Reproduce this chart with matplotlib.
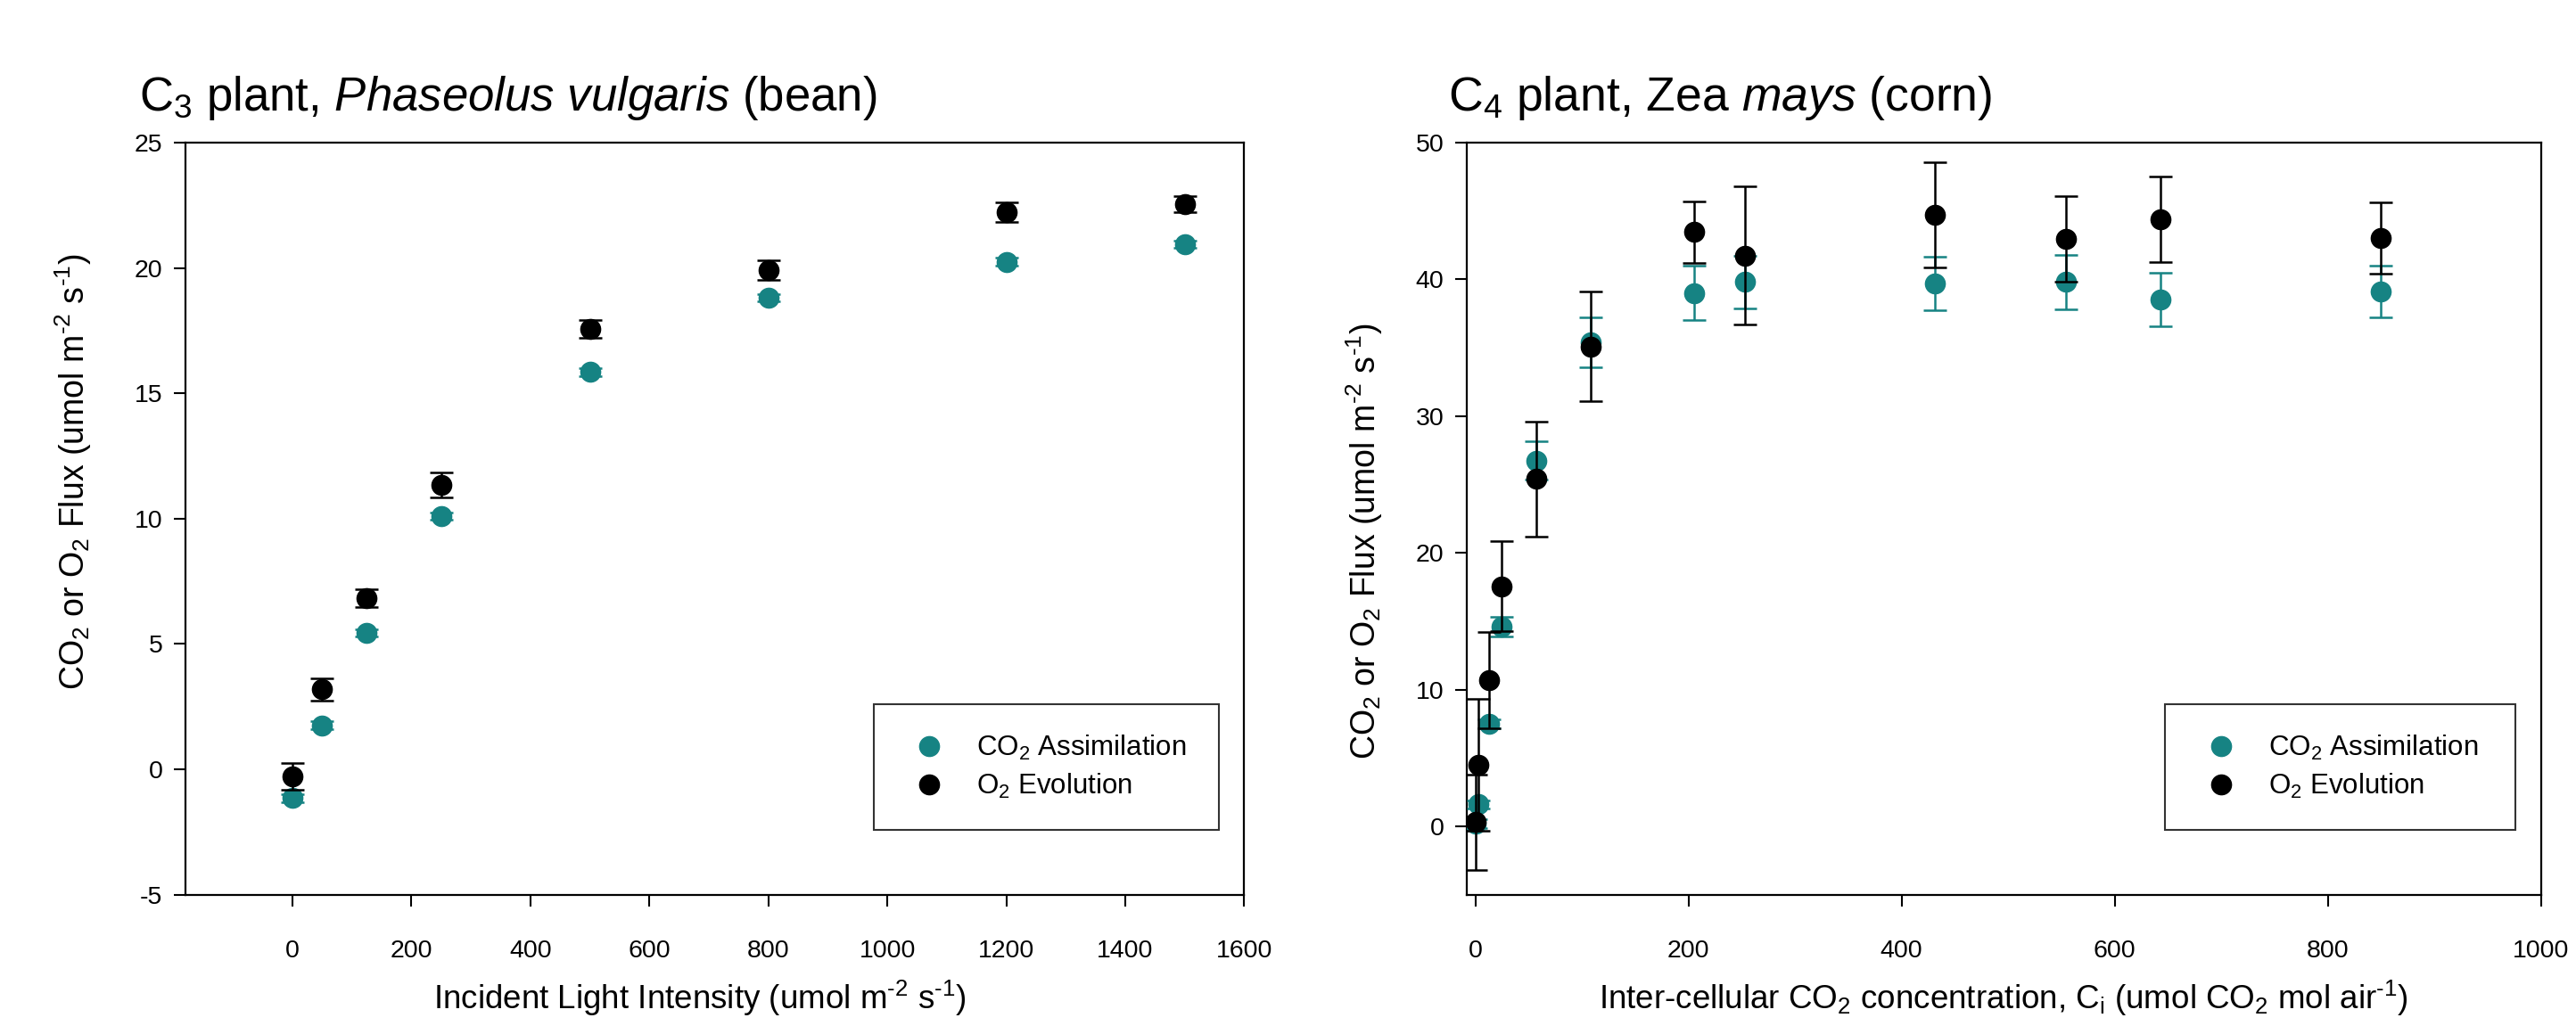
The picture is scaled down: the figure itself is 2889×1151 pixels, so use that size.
import numpy as np
import matplotlib
matplotlib.use("Agg")
import matplotlib.pyplot as plt

plt.rcParams['font.family'] = ['Liberation Sans', 'DejaVu Sans']
plt.rcParams['mathtext.fontset'] = 'custom'
plt.rcParams['mathtext.rm'] = 'Liberation Sans'
plt.rcParams['mathtext.it'] = 'Liberation Sans:italic'
plt.rcParams['mathtext.bf'] = 'Liberation Sans:bold'
plt.rcParams['axes.unicode_minus'] = False

teal = '#168383'

## C3 bean: light response
light = [0, 50, 125, 250, 500, 800, 1200, 1500]
c3_co2 = [-1.15, 1.76, 5.44, 10.1, 15.85, 18.82, 20.25, 20.95]
c3_co2_err = [0.15, 0.15, 0.15, 0.15, 0.15, 0.15, 0.15, 0.15]
c3_o2 = [-0.29, 3.19, 6.83, 11.34, 17.57, 19.92, 22.21, 22.54]
c3_o2_err = [0.53, 0.44, 0.35, 0.5, 0.35, 0.38, 0.39, 0.31]

## C4 corn: Ci response
ci = [0, 3, 13, 25, 57, 108, 205, 253, 431, 554, 643, 850]
c4_co2 = [0.2, 1.6, 7.5, 14.6, 26.75, 35.4, 39.0, 39.8, 39.7, 39.8, 38.5, 39.1]
c4_co2_err = [0.3, 0.3, 0.3, 0.7, 1.4, 1.8, 2.0, 1.95, 1.95, 2.0, 1.95, 1.9]
c4_o2 = [0.3, 4.5, 10.7, 17.55, 25.4, 35.1, 43.45, 41.75, 44.7, 42.95, 44.4, 43.0]
c4_o2_err = [3.5, 4.8, 3.5, 3.3, 4.2, 4.0, 2.25, 5.05, 3.85, 3.15, 3.15, 2.6]

hy = '\u2010'  # plain hyphen in superscripts
ylab = r'CO$_2$ or O$_2$ Flux (umol m$^{' + hy + r'2}$ s$^{' + hy + r'1}$)'

fig = plt.figure(figsize=(28.89, 11.51), dpi=100)
ax1 = fig.add_axes([0.072, 0.128, 0.411, 0.733])
ax2 = fig.add_axes([0.5694, 0.128, 0.417, 0.733])


def draw(ax, x, a, ae, b, be):
    ax.errorbar(x, a, yerr=ae, fmt='o', color=teal, ms=16, elinewidth=1.8,
                capsize=9.5, capthick=1.8, label=r'CO$_2$ Assimilation', zorder=3)
    ax.errorbar(x, b, yerr=be, fmt='o', color='black', ms=16, elinewidth=1.8,
                capsize=9.5, capthick=1.8, label=r'O$_2$ Evolution', zorder=4)
    for s in ax.spines.values():
        s.set_linewidth(1.6)
    ax.tick_params(direction='out', length=9.5, width=1.5, labelsize=20.5)
    ax.tick_params(axis='x', pad=27)
    ax.tick_params(axis='y', pad=9)
    h, l = ax.get_legend_handles_labels()
    h = [hh[0] for hh in h]
    leg = ax.legend(h, l, loc='upper left', bbox_to_anchor=(0.65, 0.253, 0.326, 0.0),
                    mode='expand', fontsize=22.5, frameon=True, fancybox=False,
                    edgecolor='black', borderpad=1.05, labelspacing=0.35,
                    handlelength=1.9, handletextpad=0.75, borderaxespad=0)
    leg.get_frame().set_linewidth(1.5)


draw(ax1, light, c3_co2, c3_co2_err, c3_o2, c3_o2_err)
ax1.set_xlim(-180, 1600)
ax1.set_ylim(-5, 25)
ax1.set_xticks(np.arange(0, 1601, 200))
ax1.set_yticks(np.arange(-5, 26, 5))
ax1.set_xlabel(r'Incident Light Intensity (umol m$^{' + hy + r'2}$ s$^{' + hy + r'1}$)',
               fontsize=26.5)
ax1.xaxis.set_label_coords(0.486, -0.112)
ax1.set_ylabel(ylab, fontsize=27)
ax1.yaxis.set_label_coords(-0.087, 0.563)
fig.text(0.054, 0.904, r'C$_3$ plant, $\mathit{Phaseolus\ vulgaris}$ (bean)', fontsize=38, va='center')

draw(ax2, ci, c4_co2, c4_co2_err, c4_o2, c4_o2_err)
ax2.set_xlim(-8, 1000)
ax2.set_ylim(-5, 50)
ax2.set_xticks(np.arange(0, 1001, 200))
ax2.set_yticks(np.arange(0, 51, 10))
ax2.set_xlabel(r'Inter-cellular CO$_2$ concentration, C$_{\rm i}$ (umol CO$_2$ mol air$^{' + hy + r'1}$)',
               fontsize=26.5)
ax2.xaxis.set_label_coords(0.5, -0.112)
ax2.set_ylabel(ylab, fontsize=27)
ax2.yaxis.set_label_coords(-0.076, 0.47)
fig.text(0.562, 0.904, r'C$_4$ plant, Zea $\mathit{mays}$ (corn)', fontsize=38.5, va='center')

fig.savefig('out.png', dpi=100)
